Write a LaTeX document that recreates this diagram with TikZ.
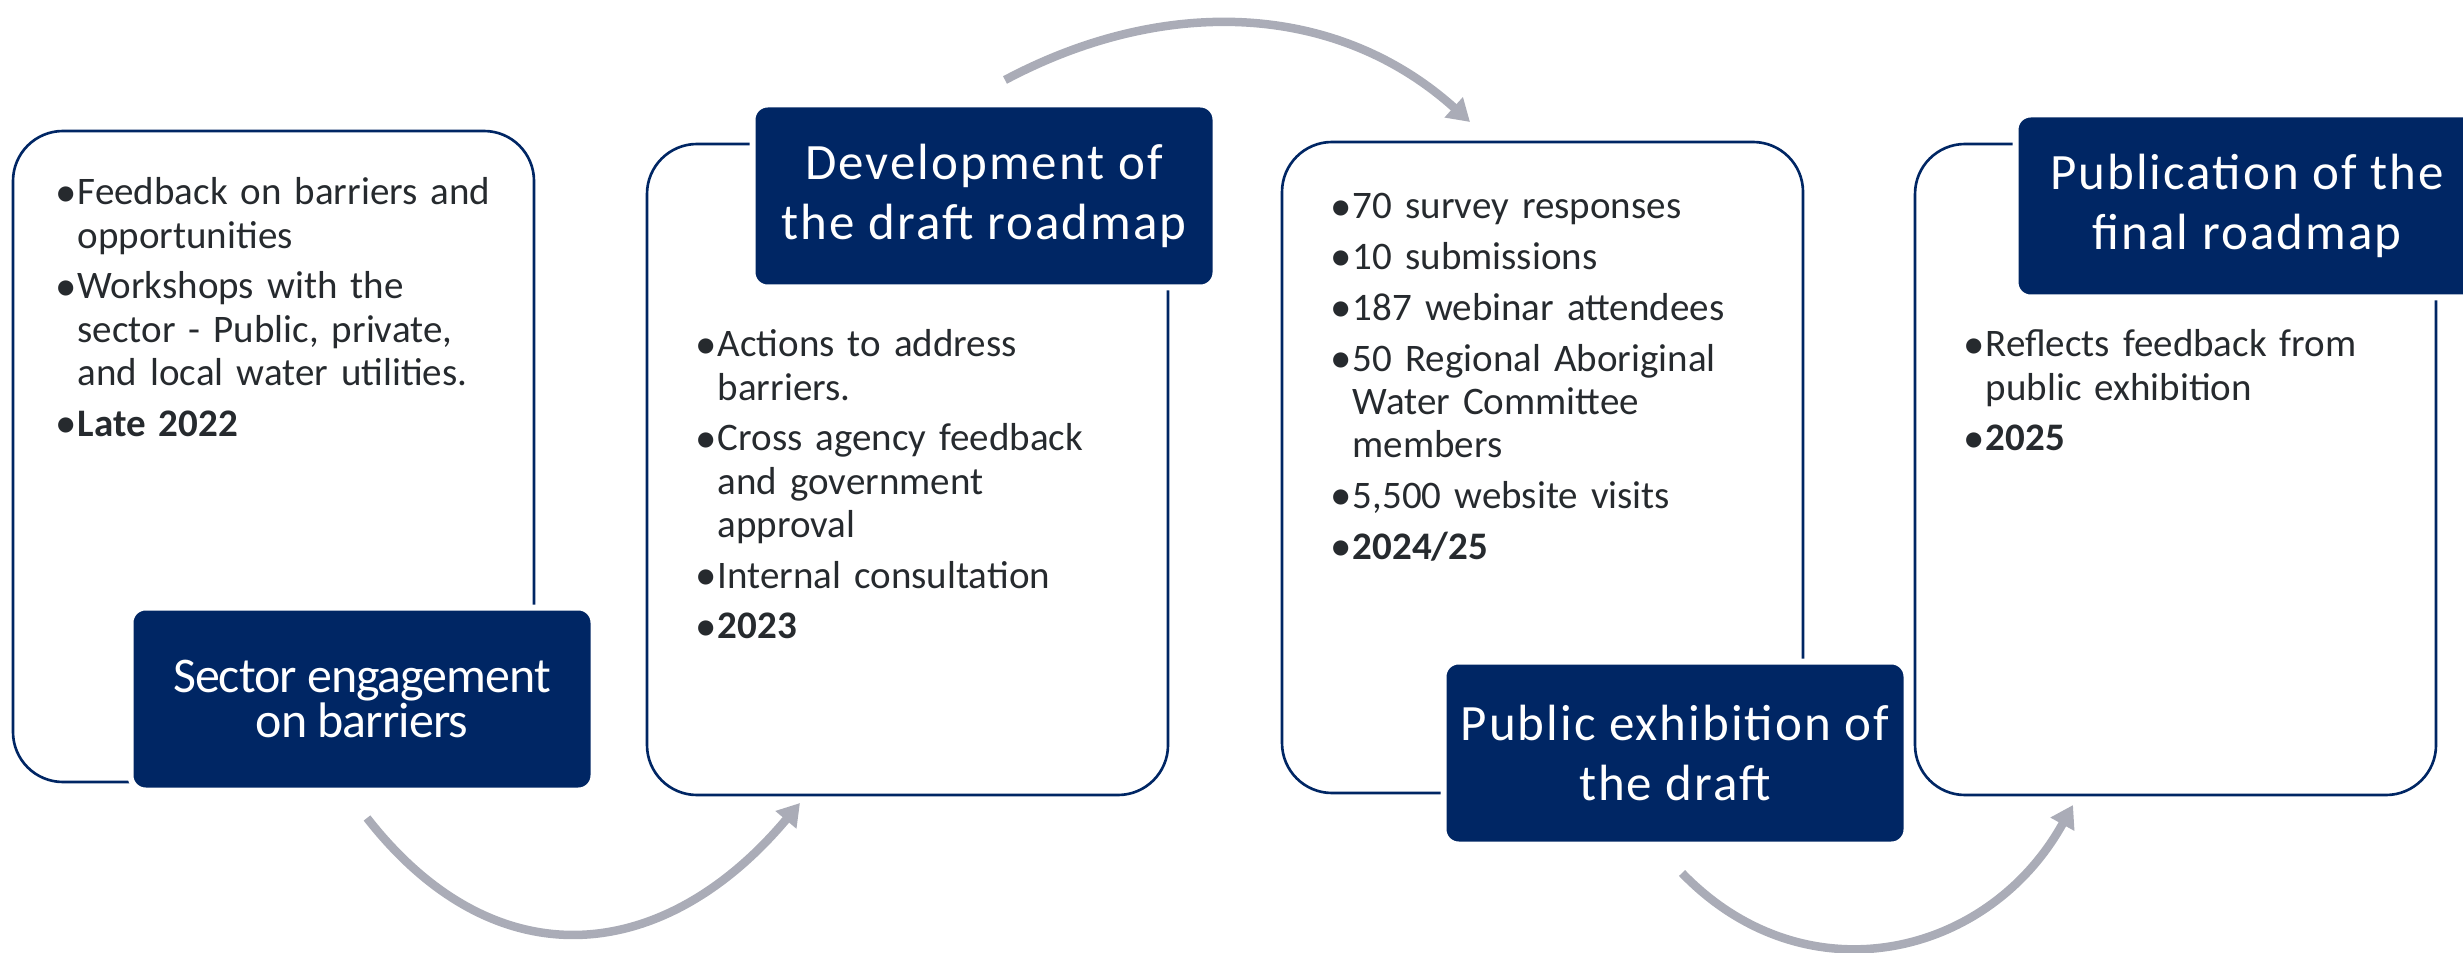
\documentclass[tikz,border=0pt]{standalone}
\usepackage{fontspec}
\setmainfont{Carlito}
\newfontfamily\ttlfont[LetterSpace=4]{Carlito}
\newfontfamily\ttlfontsm[LetterSpace=-2]{Carlito}
\usepackage{xcolor}
\usepackage{graphicx}
\usepackage{tikz}
\usetikzlibrary{arrows.meta}
\definecolor{navy}{RGB}{0,38,100}
\definecolor{arrowgray}{RGB}{170,172,183}
\definecolor{bodytext}{RGB}{38,42,46}
\newcommand\bitem[1]{\hangindent=0.22cm\hangafter=1\noindent\makebox[0.22cm][l]{\raisebox{-0.03em}{\scalebox{1.1}{\textbullet}}}#1\par}

\begin{document}
\begin{tikzpicture}[
	stagebox/.style={draw=navy, line width=0.75pt, rounded corners=0.5cm, minimum width=5.21cm, minimum height=6.51cm, inner sep=0pt, outer sep=0pt, anchor=north west},
	stagelabel/.style={fill=navy, draw=white, line width=0.06cm, rounded corners=0.15cm, text=white, align=center, minimum width=4.63cm, minimum height=1.83cm, inner sep=0pt, outer sep=0pt, anchor=north west},
	stagetext/.style={text=bodytext, text width=4.7cm, align=left, inner sep=0pt, anchor=base west, font=\fontsize{11.1}{12.3}\selectfont},
	flow/.style={draw=arrowgray, line width=0.085cm, -{Triangle[width=0.26cm,length=0.22cm]}}
]
	\newcommand\ttlA{\ttlfontsm\fontsize{14.2}{12.8}\selectfont}
	\newcommand\ttlB{\ttlfont\fontsize{14.5}{17.3}\selectfont}
	\newcommand\psep{\setlength{\parskip}{0.075cm}}

	\useasboundingbox (0,0) rectangle (24.63,-9.53);
	\clip (0,0) rectangle (24.63,-9.53);

	\node[stagebox] (box1) at (0.13,-1.31) {};
	\node[stagebox] (box2) at (6.47,-1.44) {};
	\node[stagebox] (box3) at (12.82,-1.42) {};
	\node[stagebox] (box4) at (19.15,-1.44) {};

	\node[stagetext] (txt1) at (0.55,-2.05) {\psep
		\bitem{Feedback on barriers and\newline opportunities}
		\bitem{Workshops with the\newline sector - Public, private,\newline and local water utilities.}
		\bitem{\textbf{Late 2022}}};
	\node[stagetext] (txt2) at (6.95,-3.57) {\psep
		\bitem{Actions to address\newline barriers.}
		\bitem{Cross agency feedback\newline and government\newline approval}
		\bitem{Internal consultation}
		\bitem{\textbf{2023}}};
	\node[stagetext] (txt3) at (13.30,-2.19) {\psep
		\bitem{70 survey responses}
		\bitem{10 submissions}
		\bitem{187 webinar attendees}
		\bitem{50 Regional Aboriginal\newline Water Committee\newline members}
		\bitem{5,500 website visits}
		\bitem{\textbf{2024/25}}};
	\node[stagetext] (txt4) at (19.63,-3.57) {\psep
		\bitem{Reflects feedback from\newline public exhibition}
		\bitem{\textbf{2025}}};

	\node[stagelabel, font=\ttlA] (lbl1) at (1.305,-6.075) {Sector engagement\\on barriers};
	\node[stagelabel, font=\ttlB] (lbl2) at (7.525,-1.045) {Development of\\the draft roadmap};
	\node[stagelabel, font=\ttlB] (lbl3) at (14.435,-6.615) {Public exhibition of\\the draft};
	\node[stagelabel, font=\ttlB] (lbl4) at (20.155,-1.145) {Publication of the\\final roadmap};

	\coordinate (a1s) at (3.67,-8.18);
	\coordinate (a1e) at (8.00,-8.03);
	\coordinate (a2s) at (10.05,-0.80);
	\coordinate (a2e) at (14.70,-1.22);
	\coordinate (a3s) at (16.82,-8.73);
	\coordinate (a3e) at (20.73,-8.05);

	\draw[flow] (a1s) to[out=-52,in=-130,distance=2.1cm] (a1e);
	\draw[flow] (a2s) to[out=28,in=138,distance=1.8cm] (a2e);
	\draw[flow] (a3s) to[out=-46,in=-119,distance=1.76cm] (a3e);
\end{tikzpicture}
\end{document}
